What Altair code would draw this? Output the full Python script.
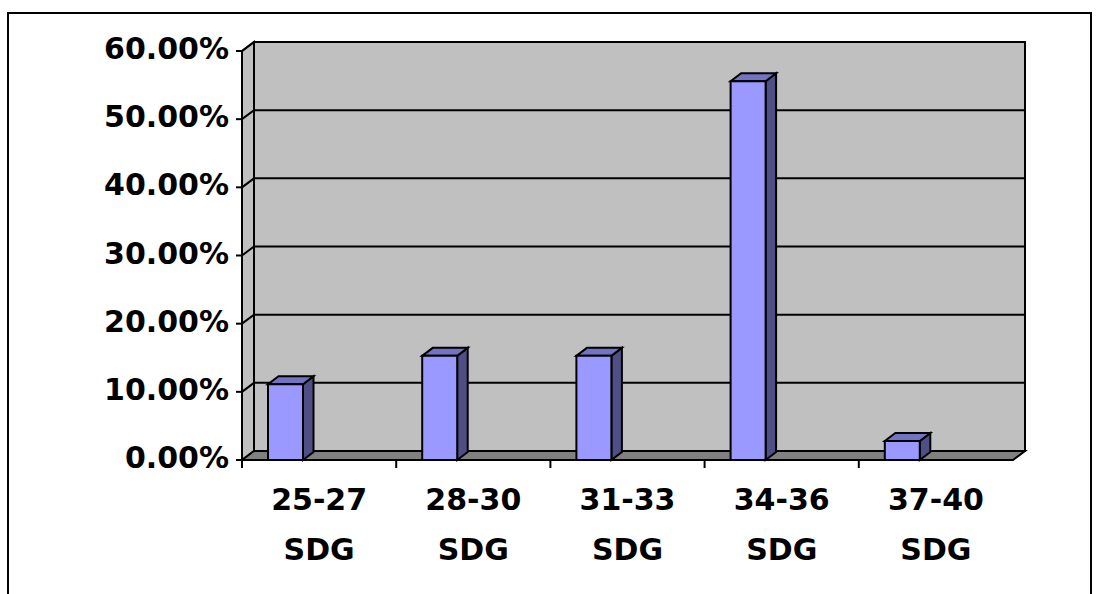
import altair as alt
import pandas as pd

# Share of respondents per age/score bracket
range_labels = ["25-27", "28-30", "31-33", "34-36", "37-40"]
unit_labels = ["SDG", "SDG", "SDG", "SDG", "SDG"]
shares = [11.11, 15.28, 15.28, 55.56, 2.78]
y_ticks = [0, 10, 20, 30, 40, 50, 60]

# Layout (pixels)
PLOT_W, PLOT_H = 771, 409
N = len(shares)
Y_MAX = 60
WALL_DX_PX, WALL_DY_PX = 12, 9
BAR_DX_PX, BAR_DY_PX = 10.5, 8
BAR_LEFT_PX, BAR_W_PX = 26, 35
TICK_PX = 6

ux = N / PLOT_W      # data units per pixel, horizontal
uy = Y_MAX / PLOT_H  # data units per pixel, vertical
wall_dx, wall_dy = WALL_DX_PX * ux, WALL_DY_PX * uy
bar_dx, bar_dy = BAR_DX_PX * ux, BAR_DY_PX * uy
bar_l, bar_w = BAR_LEFT_PX * ux, BAR_W_PX * ux

WALL = "#c0c0c0"
FLOOR = "#808080"
FRONT = "#9999ff"
TOP = "#7373c4"
SIDE = "#4f4f85"
FONT = "DejaVu Sans"

xs = alt.Scale(domain=[0, N], nice=False, zero=False)
ys = alt.Scale(domain=[0, Y_MAX], nice=False, zero=False)

line_style = dict(stroke="black", strokeWidth=2)


def X(field, **kw):
    return alt.X(field, scale=xs, axis=None, **kw)


def Y(field, **kw):
    return alt.Y(field, scale=ys, axis=None, **kw)


# Back wall
back = pd.DataFrame({"x": [wall_dx], "x2": [N + wall_dx], "y": [wall_dy], "y2": [Y_MAX + wall_dy]})
back_wall = alt.Chart(back).mark_rect(fill=WALL, **line_style).encode(
    x=X("x:Q"), x2="x2:Q", y=Y("y:Q"), y2="y2:Q",
)

# Left side wall
left = pd.DataFrame({"x": [0, wall_dx], "lo": [0, wall_dy], "hi": [Y_MAX, Y_MAX + wall_dy]})
left_wall = alt.Chart(left).mark_area(fill=WALL, orient="vertical", **line_style).encode(
    x=X("x:Q"), y=Y("lo:Q", stack=False), y2="hi:Q",
)

# Gridlines running across the side wall and the back wall
grid_rows = []
for k in y_ticks[1:]:
    grid_rows += [
        {"k": k, "o": 0, "x": 0, "y": k},
        {"k": k, "o": 1, "x": wall_dx, "y": k + wall_dy},
        {"k": k, "o": 2, "x": N + wall_dx, "y": k + wall_dy},
    ]
grid = alt.Chart(pd.DataFrame(grid_rows)).mark_line(**line_style).encode(
    x=X("x:Q"), y=Y("y:Q"), detail="k:N", order="o:Q",
)

# Floor
fl = pd.DataFrame({"y": [0, wall_dy], "x": [0, wall_dx], "x2": [N, N + wall_dx]})
floor = alt.Chart(fl).mark_area(fill=FLOOR, orient="horizontal", **line_style).encode(
    y=Y("y:Q"), x=X("x:Q", stack=False), x2="x2:Q",
)

# Bars: side face, top face, front face
side_rows, top_rows, front_rows = [], [], []
for i, v in enumerate(shares):
    xl = i + bar_l
    xr = xl + bar_w
    side_rows += [
        {"b": i, "x": xr, "lo": 0, "hi": v},
        {"b": i, "x": xr + bar_dx, "lo": bar_dy, "hi": v + bar_dy},
    ]
    top_rows += [
        {"b": i, "y": v, "x": xl, "x2": xr},
        {"b": i, "y": v + bar_dy, "x": xl + bar_dx, "x2": xr + bar_dx},
    ]
    front_rows.append({"b": i, "x": xl, "x2": xr, "v": v, "z": 0})

side = alt.Chart(pd.DataFrame(side_rows)).mark_area(fill=SIDE, orient="vertical", **line_style).encode(
    x=X("x:Q"), y=Y("lo:Q", stack=False), y2="hi:Q", detail="b:N",
)
top = alt.Chart(pd.DataFrame(top_rows)).mark_area(fill=TOP, orient="horizontal", **line_style).encode(
    y=Y("y:Q"), x=X("x:Q", stack=False), x2="x2:Q", detail="b:N",
)
front = alt.Chart(pd.DataFrame(front_rows)).mark_rect(fill=FRONT, **line_style).encode(
    x=X("x:Q"), x2="x2:Q", y=Y("z:Q"), y2="v:Q",
)

# Value axis: tick marks and percentage labels
yt = pd.DataFrame({"y": y_ticks, "x": [-TICK_PX * ux] * len(y_ticks), "x2": [0] * len(y_ticks),
                   "label": [f"{t:.2f}%" for t in y_ticks]})
y_tick_marks = alt.Chart(yt).mark_rule(**line_style).encode(x=X("x:Q"), x2="x2:Q", y=Y("y:Q"))
y_labels = alt.Chart(yt).mark_text(
    font=FONT, fontWeight="bold", fontSize=30, color="black", align="right", baseline="middle", dx=-7, dy=-1,
).encode(x=X("x:Q"), y=Y("y:Q"), text="label:N")

# Category axis: tick marks between brackets
xt = pd.DataFrame({"x": list(range(N)), "y": [0] * N, "y2": [-8 * uy] * N})
x_tick_marks = alt.Chart(xt).mark_rule(**line_style).encode(x=X("x:Q"), y=Y("y:Q"), y2="y2:Q")

# Category labels (two lines)
lab = pd.DataFrame({"x": [i + 0.5 for i in range(N)], "l1": range_labels, "l2": unit_labels, "y": [0] * N})
text_style = dict(font=FONT, fontWeight="bold", fontSize=30, color="black", align="center", baseline="middle")
lab1 = alt.Chart(lab).mark_text(dy=41, **text_style).encode(x=X("x:Q"), y=Y("y:Q"), text="l1:N")
lab2 = alt.Chart(lab).mark_text(dy=91, **text_style).encode(x=X("x:Q"), y=Y("y:Q"), text="l2:N")

# Outer chart border
frame = alt.Chart(pd.DataFrame({"a": [0]})).mark_rect(filled=False, **line_style).encode(
    x=alt.value(8 - 242), x2=alt.value(1091 - 242),
    y=alt.value(13 - 51), y2=alt.value(620),
)

chart = alt.layer(
    back_wall, left_wall, grid, floor, side, top, front,
    y_tick_marks, y_labels, x_tick_marks, lab1, lab2, frame,
).properties(
    width=PLOT_W, height=PLOT_H,
    padding={"left": 242, "top": 51, "right": 86, "bottom": 134},
    autosize=alt.AutoSizeParams(type="none"),
    background="white",
).configure_view(strokeWidth=0)

chart.save("out.html", embed_options={"renderer": "svg", "actions": False})
